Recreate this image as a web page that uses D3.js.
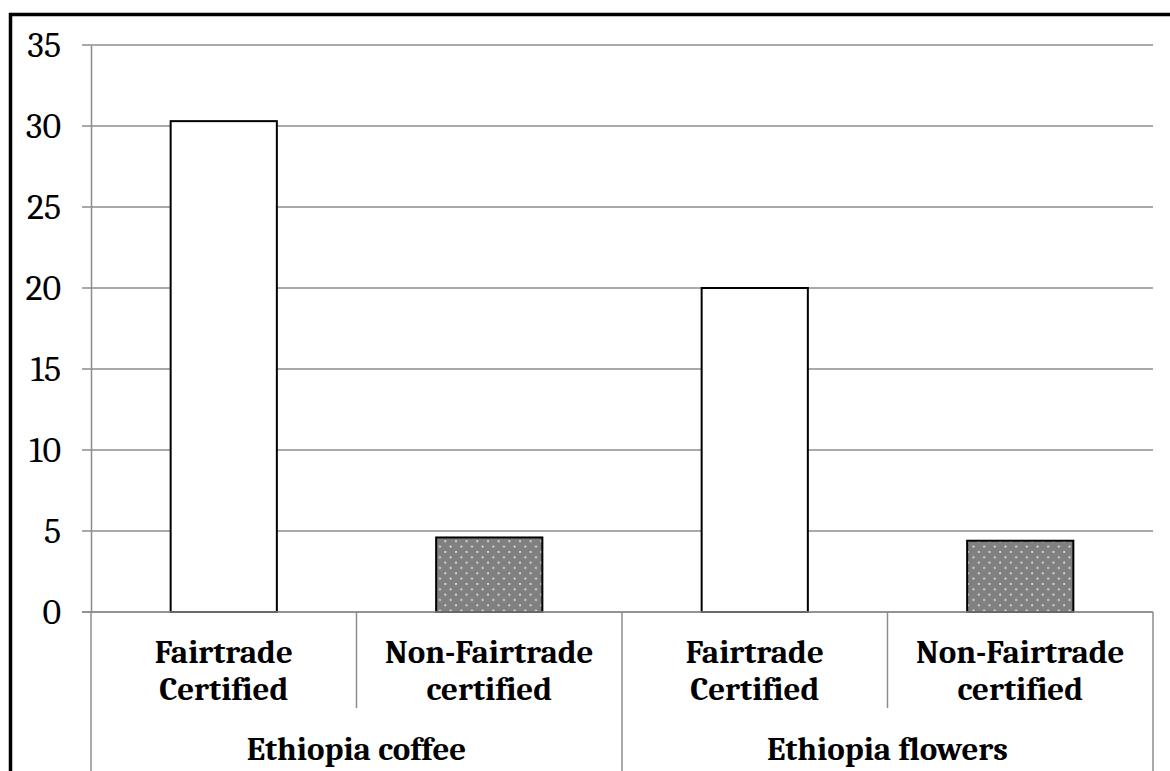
<!DOCTYPE html>
<html>
<head>
<meta charset="utf-8">
<script src="https://cdn.jsdelivr.net/npm/d3@7"></script>
<style>
    body { margin: 0; background: #fff; }
    text { font-family: Cambria, "DejaVu Serif", serif; fill: #000; }
</style>
</head>
<body>
<script>

// bar values
var groups = ["Ethiopia coffee", "Ethiopia flowers"];
var subLabels = ["Fairtrade Certified", "Non-Fairtrade certified"];
var values = [30.3, 4.6, 20.0, 4.4];
var yTicks = [0, 5, 10, 15, 20, 25, 30, 35];

var rows = [];
groups.forEach(function (g, gi) {
    subLabels.forEach(function (s, si) {
        rows.push({group: g, label: s, certified: si === 0, value: values[gi * 2 + si], key: g + "|" + s});
    });
});

var svg = d3.select("body")
    .append("svg")
    .attr("width", 1170)
    .attr("height", 771);

var defs = svg.append("defs");
var pat = defs.append("pattern")
    .attr("id", "dots")
    .attr("patternUnits", "userSpaceOnUse")
    .attr("width", 10.67)
    .attr("height", 10.67);
pat.append("rect").attr("width", 10.67).attr("height", 10.67).attr("fill", "#808080");
pat.append("circle").attr("cx", 2.5).attr("cy", 2.5).attr("r", 1).attr("fill", "#f2f2f2");
pat.append("circle").attr("cx", 7.83).attr("cy", 7.83).attr("r", 1).attr("fill", "#f2f2f2");

var x = d3.scaleBand()
    .domain(rows.map(function (d) { return d.key; }))
    .range([91, 1153])
    .padding(0);

var xGroup = d3.scaleBand()
    .domain(groups)
    .range([91, 1153])
    .padding(0);

var y = d3.scaleLinear()
    .domain([0, 35])
    .range([612, 45]);

// gridlines
svg.append("g")
    .selectAll("line")
    .data(yTicks)
    .enter()
    .append("line")
    .attr("x1", 82)
    .attr("x2", 1153)
    .attr("y1", function (d) { return y(d); })
    .attr("y2", function (d) { return y(d); })
    .attr("stroke", "#8c8c8c")
    .attr("stroke-width", 1.5);

// y axis
var yAxis = d3.axisLeft(y).tickValues(yTicks).tickSize(0).tickPadding(30);
var ya = svg.append("g")
    .attr("transform", "translate(91,0)")
    .call(yAxis);
ya.select(".domain").attr("stroke", "#8c8c8c").attr("stroke-width", 1.5);
ya.selectAll("text")
    .style("font-size", "36px")
    .style("font-family", "Cambria, 'DejaVu Serif', serif")
    .attr("fill", "#000");

// bars
var bw = x.bandwidth() * 0.4;
svg.append("g")
    .selectAll("rect")
    .data(rows)
    .enter()
    .append("rect")
    .attr("x", function (d) { return x(d.key) + x.bandwidth() / 2 - bw / 2; })
    .attr("y", function (d) { return y(d.value); })
    .attr("width", bw)
    .attr("height", function (d) { return y(0) - y(d.value); })
    .attr("fill", function (d) { return d.certified ? "#fff" : "url(#dots)"; })
    .attr("stroke", "#000")
    .attr("stroke-width", 2);

// x axis baseline
svg.append("line")
    .attr("x1", 82).attr("x2", 1153)
    .attr("y1", y(0)).attr("y2", y(0))
    .attr("stroke", "#8c8c8c").attr("stroke-width", 1.5);

// sub category dividers
svg.append("g")
    .selectAll("line")
    .data(rows.filter(function (d, i) { return i % 2 === 1; }))
    .enter()
    .append("line")
    .attr("x1", function (d) { return x(d.key); })
    .attr("x2", function (d) { return x(d.key); })
    .attr("y1", y(0))
    .attr("y2", 708)
    .attr("stroke", "#8c8c8c").attr("stroke-width", 1.5);

// group dividers
var edges = groups.map(function (g) { return xGroup(g); }).concat([xGroup.range()[1]]);
svg.append("g")
    .selectAll("line")
    .data(edges)
    .enter()
    .append("line")
    .attr("x1", function (d) { return d; })
    .attr("x2", function (d) { return d; })
    .attr("y1", y(0))
    .attr("y2", 780)
    .attr("stroke", "#8c8c8c").attr("stroke-width", 1.5);

// sub category labels
var lab = svg.append("g")
    .selectAll("text")
    .data(rows)
    .enter()
    .append("text")
    .attr("text-anchor", "middle")
    .style("font-size", "33px")
    .style("font-weight", "bold");
lab.each(function (d) {
    var words = d.label.split(" ");
    var t = d3.select(this);
    words.forEach(function (w, i) {
        t.append("tspan")
            .attr("x", x(d.key) + x.bandwidth() / 2)
            .attr("y", 663 + i * 37)
            .text(w);
    });
});

// group labels
svg.append("g")
    .selectAll("text")
    .data(groups)
    .enter()
    .append("text")
    .attr("x", function (d) { return xGroup(d) + xGroup.bandwidth() / 2; })
    .attr("y", 760)
    .attr("text-anchor", "middle")
    .style("font-size", "33px")
    .style("font-weight", "bold")
    .text(function (d) { return d; });

// outer frame
svg.append("rect")
    .attr("x", 10.5)
    .attr("y", 14.5)
    .attr("width", 1200)
    .attr("height", 800)
    .attr("fill", "none")
    .attr("stroke", "#000")
    .attr("stroke-width", 3.5);

</script>
</body>
</html>
